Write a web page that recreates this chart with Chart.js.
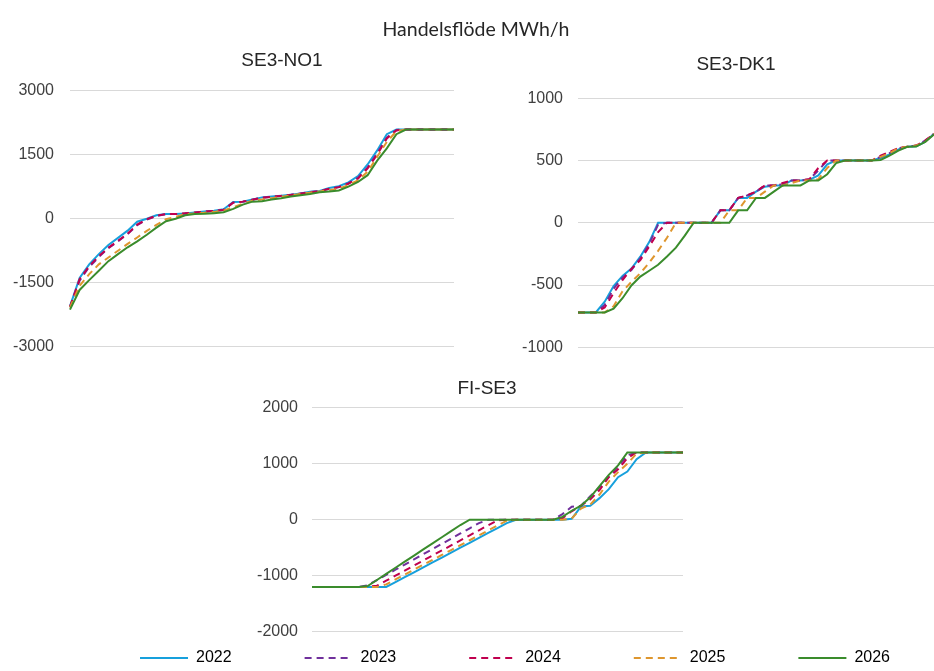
<!DOCTYPE html>
<html lang="sv">
<head>
<meta charset="utf-8">
<title>Handelsflöde MWh/h</title>
<script src="https://cdn.jsdelivr.net/npm/chart.js@4.4.1/dist/chart.umd.min.js"></script>
<style>
  html, body { margin: 0; padding: 0; background: #fff; overflow: hidden; }
  body { width: 934px; height: 671px; position: relative; }
  .box { position: absolute; }
</style>
</head>
<body>
<div class="box" style="left:55px;top:0;width:920px;height:671px"><canvas id="chart-frame"></canvas></div>
<div class="box" style="left:0;top:40px;width:564px;height:320px"><canvas id="chart-no1"></canvas></div>
<div class="box" style="left:470px;top:40px;width:505px;height:320px"><canvas id="chart-dk1"></canvas></div>
<div class="box" style="left:250px;top:370px;width:474px;height:275px"><canvas id="chart-fi"></canvas></div>

<script>
// ── Data ────────────────────────────────────────────────────────────
const MAIN_TITLE = "Handelsflöde MWh/h";
const YEARS = ["2022", "2023", "2024", "2025", "2026"];

// share of hours (sorted duration curve), %
const DURATION = [0, 2.5, 5, 7.5, 10, 12.5, 15, 17.5, 20, 22.5, 25, 27.5, 30, 32.5, 35, 37.5, 40,
  42.5, 45, 47.5, 50, 52.5, 55, 57.5, 60, 62.5, 65, 67.5, 70, 72.5, 75, 77.5, 80, 82.5, 85, 87.5,
  90, 92.5, 95, 97.5, 100];

// SE3-NO1
const NO1_TICKS = [-3000, -1500, 0, 1500, 3000];
const NO1_2022 = [-2050, -1390, -1070, -830, -615, -450, -280, -70, 0, 80, 110, 110, 120, 145, 170, 185, 220, 390, 400, 450,
  500, 520, 540, 560, 590, 630, 650, 720, 760, 850, 1000, 1270, 1600, 1980, 2090, 2090, 2090, 2090, 2090, 2090, 2090];
const NO1_2023 = [-2080, -1450, -1130, -900, -690, -530, -360, -150, -20, 60, 110, 110, 120, 140, 165, 180, 210, 380, 400, 445,
  495, 515, 535, 560, 590, 625, 650, 700, 740, 830, 960, 1200, 1540, 1900, 2080, 2090, 2090, 2090, 2090, 2090, 2090];
const NO1_2024 = [-2060, -1420, -1110, -880, -680, -520, -350, -140, -10, 70, 110, 110, 125, 145, 165, 185, 205, 375, 400, 445,
  490, 515, 535, 555, 585, 620, 645, 700, 740, 820, 940, 1180, 1500, 1880, 2070, 2090, 2090, 2090, 2090, 2090, 2090];
const NO1_2025 = [-2080, -1570, -1300, -1070, -910, -750, -590, -440, -285, -145, -10, 40, 110, 120, 140, 160, 190, 270, 350, 420,
  450, 480, 510, 550, 580, 610, 640, 670, 700, 790, 900, 1100, 1450, 1800, 2050, 2090, 2090, 2090, 2090, 2090, 2090];
const NO1_2026 = [-2130, -1670, -1440, -1220, -995, -830, -670, -530, -375, -210, -60, 0, 80, 110, 115, 130, 150, 230, 330, 400,
  410, 450, 480, 520, 550, 580, 620, 640, 660, 750, 860, 1020, 1360, 1650, 1980, 2090, 2090, 2090, 2090, 2090, 2090];

// SE3-DK1
const DK1_TICKS = [-1000, -500, 0, 500, 1000];
const DK1_2022 = [-720, -720, -720, -634, -508, -427, -368, -272, -155, 0, 0, 0, 0, 0, 0, 0, 100, 100, 200, 200,
  250, 290, 300, 300, 340, 340, 345, 380, 470, 500, 500, 500, 500, 500, 520, 550, 590, 610, 615, 650, 715];
const DK1_2023 = [-720, -720, -720, -660, -530, -440, -380, -285, -170, -15, 0, 0, 0, 0, 0, 0, 100, 100, 200, 220,
  250, 300, 300, 310, 340, 340, 350, 420, 500, 500, 500, 500, 500, 500, 530, 560, 600, 610, 620, 660, 715];
const DK1_2024 = [-720, -720, -720, -680, -565, -460, -370, -300, -190, -75, 0, 0, 0, 0, 0, 0, 100, 100, 200, 220,
  250, 300, 300, 320, 340, 340, 350, 440, 500, 500, 500, 500, 500, 500, 540, 570, 600, 610, 620, 660, 715];
const DK1_2025 = [-720, -720, -720, -720, -670, -550, -475, -405, -320, -225, -120, 0, 0, 0, 0, 0, 0, 100, 100, 200,
  200, 250, 300, 300, 320, 340, 340, 350, 440, 500, 500, 500, 500, 500, 530, 560, 600, 610, 620, 650, 715];
const DK1_2026 = [-720, -720, -720, -720, -690, -606, -503, -432, -385, -337, -271, -200, -103, 0, 0, 0, 0, 0, 100, 100,
  200, 200, 250, 300, 300, 300, 340, 340, 390, 480, 500, 500, 500, 500, 505, 540, 580, 610, 612, 650, 710];

// FI-SE3
const FI_TICKS = [-2000, -1000, 0, 1000, 2000];
const FI_2022 = [-1200, -1200, -1200, -1200, -1200, -1200, -1200, -1200, -1200, -1115, -1027, -939, -851, -764, -676, -588, -500, -412, -324, -237,
  -149, -61, 0, 0, 0, 0, 0, 0, 15, 235, 250, 385, 545, 760, 860, 1080, 1200, 1200, 1200, 1200, 1200];
const FI_2023 = [-1200, -1200, -1200, -1200, -1200, -1200, -1171, -1079, -986, -893, -801, -709, -616, -524, -431, -339, -246, -154, -61, 0,
  0, 0, 0, 0, 0, 0, 0, 100, 230, 250, 420, 580, 780, 950, 1150, 1200, 1200, 1200, 1200, 1200, 1200];
const FI_2024 = [-1200, -1200, -1200, -1200, -1200, -1200, -1200, -1179, -1089, -999, -909, -819, -729, -639, -549, -459, -369, -279, -189, -99,
  -10, 0, 0, 0, 0, 0, 0, 25, 150, 250, 360, 530, 760, 900, 1100, 1200, 1200, 1200, 1200, 1200, 1200];
const FI_2025 = [-1200, -1200, -1200, -1200, -1200, -1200, -1200, -1200, -1155, -1067, -980, -892, -805, -717, -630, -542, -454, -367, -279, -192,
  -104, -17, 0, 0, 0, 0, 0, 0, 20, 200, 270, 450, 680, 850, 1000, 1180, 1200, 1200, 1200, 1200, 1200];
const FI_2026 = [-1200, -1200, -1200, -1200, -1200, -1200, -1185, -1077, -967, -858, -749, -640, -531, -422, -313, -204, -95, 0, 0, 0,
  0, 0, 0, 0, 0, 0, 0, 50, 160, 250, 400, 600, 800, 970, 1200, 1200, 1200, 1200, 1200, 1200, 1200];

// ── Styles ──────────────────────────────────────────────────────────
const COLORS = ["#17a0dc", "#70309c", "#c0004e", "#de962e", "#3a8c2c"];
const DASHES = [[], [7, 5], [7, 5], [7, 5], []];
const TEXT = "#262626";
const GRID = "#d9d9d9";

Chart.defaults.font.family = "'Liberation Sans', Arial, sans-serif";
Chart.defaults.font.size = 16;
Chart.defaults.color = "#404040";

const hiddenAxis = (position, width) => ({
  type: "linear",
  position,
  display: width > 0,
  grid: { display: false, drawTicks: false },
  border: { display: false },
  ticks: { display: false },
  afterFit: s => { s.width = width; }
});

// ── Panels ──────────────────────────────────────────────────────────
function buildPanel(id, title, series, ticks, box) {
  return new Chart(document.getElementById(id), {
    type: "line",
    data: {
      labels: DURATION,
      datasets: series.map((data, i) => ({
        label: YEARS[i],
        data,
        borderColor: COLORS[i],
        backgroundColor: COLORS[i],
        borderDash: DASHES[i],
        borderWidth: 2,
        pointRadius: 0,
        tension: 0,
        order: series.length - i,   // 2026 on top
      }))
    },
    options: {
      responsive: true, maintainAspectRatio: false, animation: false,
      layout: { padding: { left: box.padLeft, right: 0, top: 0, bottom: box.padBottom } },
      plugins: {
        legend: { display: false },
        tooltip: { enabled: false },
        title: {
          display: true, text: title, color: TEXT,
          font: { size: 19, weight: "normal" },
          padding: { top: box.titleTop, bottom: box.titleBottom }
        }
      },
      scales: {
        x: { display: false },
        y: {
          min: ticks[0], max: ticks[ticks.length - 1],
          afterBuildTicks: s => { s.ticks = ticks.map(v => ({ value: v })); },
          afterFit: s => {
            s.width = box.axisW;
            s.paddingTop = 0;       // keep the plot edges where the padding says
            s.paddingBottom = 0;
          },
          grid: { color: GRID, lineWidth: 1, drawTicks: false },
          border: { display: false },
          ticks: { padding: box.tickPad, callback: v => String(v) }
        },
        y2: hiddenAxis("right", box.rightW)
      }
    }
  });
}

buildPanel("chart-no1", "SE3-NO1", [NO1_2022, NO1_2023, NO1_2024, NO1_2025, NO1_2026], NO1_TICKS,
  { padLeft: 0, padBottom: 13.3, titleTop: 9, titleBottom: 18.9, axisW: 70, rightW: 110, tickPad: 16 });

buildPanel("chart-dk1", "SE3-DK1", [DK1_2022, DK1_2023, DK1_2024, DK1_2025, DK1_2026], DK1_TICKS,
  { padLeft: 27, padBottom: 12.7, titleTop: 13, titleBottom: 22.5, axisW: 81, rightW: 41, tickPad: 15 });

buildPanel("chart-fi", "FI-SE3", [FI_2022, FI_2023, FI_2024, FI_2025, FI_2026], FI_TICKS,
  { padLeft: 0, padBottom: 13.3, titleTop: 7, titleBottom: 7.9, axisW: 62, rightW: 41, tickPad: 14 });

// ── Main title + shared legend ──────────────────────────────────────
new Chart(document.getElementById("chart-frame"), {
  type: "line",
  data: {
    labels: [],
    datasets: YEARS.map((y, i) => ({ label: y, data: [], borderColor: COLORS[i], borderDash: DASHES[i], borderWidth: 2 }))
  },
  options: {
    responsive: true, maintainAspectRatio: false, animation: false,
    plugins: {
      tooltip: { enabled: false },
      title: {
        display: true, text: MAIN_TITLE, fullSize: false, color: TEXT,
        font: { family: "Lato, 'Open Sans', sans-serif", size: 19.5, weight: "normal" },
        padding: { top: 18, bottom: 0 }
      },
      legend: {
        position: "bottom",
        maxHeight: 94,
        labels: {
          usePointStyle: true,
          pointStyleWidth: 48,
          padding: 73,
          color: TEXT,
          font: { size: 16 },
          generateLabels: chart => chart.data.datasets.map((ds, i) => ({
            text: ds.label,
            strokeStyle: ds.borderColor,
            fillStyle: ds.borderColor,
            lineWidth: ds.borderWidth,
            lineDash: ds.borderDash,
            pointStyle: "line",
            hidden: false,
            datasetIndex: i
          }))
        }
      }
    },
    scales: {
      x: { display: false },
      y: hiddenAxis("left", 10),
      y2: hiddenAxis("right", 88)
    }
  }
});
</script>
</body>
</html>
